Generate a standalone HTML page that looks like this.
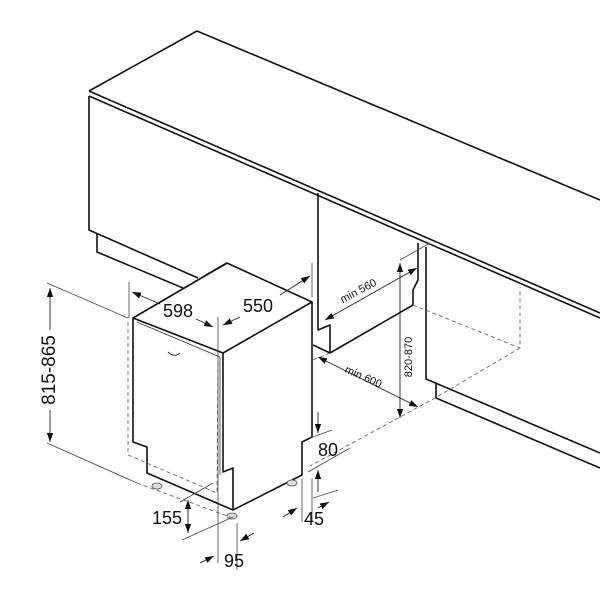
<!DOCTYPE html>
<html><head><meta charset="utf-8"><style>html,body{margin:0;padding:0;background:#fff}svg{display:block}</style></head>
<body>
<svg width="600" height="600" viewBox="0 0 600 600" xmlns="http://www.w3.org/2000/svg" font-family="Liberation Sans, sans-serif">
<defs>
<marker id="a" viewBox="0 0 10 10" refX="10" refY="5" markerWidth="9" markerHeight="9" orient="auto-start-reverse" markerUnits="userSpaceOnUse"><path d="M0,1.5 L10,5 L0,8.5z" fill="#111"/></marker>
</defs>
<g fill="none" stroke="#111" stroke-width="1.6" stroke-linejoin="round">
<path d="M89,91 L197,31 L600,200"/>
<path d="M89,91 L600,313"/>
<path d="M89,96 L600,318"/>
<path d="M89,96 L89,230 L198,278"/>
<path d="M97,233 L97,252 L183,288"/>
<path d="M318,193 L318,330 L330,325 L330,353 L413,305 L413,290 L418,280 L418,243"/>
<path d="M313,345 L330,353"/>
<path d="M426,247 L426,379 L600,453"/>
<path d="M436,384 L436,398 L600,468"/>
<path d="M133,318 L227,263 L312,302 L223,353 Z"/>
<path d="M133,318 L133,442 L147,447 L147,473 L233,510 L302,475 L302,442 L312,437 L312,302"/>
<path d="M223,353 L223,472 L233,468 L233,510"/>
<path d="M227,263 L206,275"/>
</g>
<g fill="none" stroke="#333" stroke-width="0.8">
<path d="M137,322 L220,357"/>
<path d="M220,357 L220,475"/>
<path d="M168,352 q6,6 12,1" stroke-width="1"/>
</g>
<g fill="#ddd" stroke="#555" stroke-width="0.8">
<ellipse cx="157" cy="486" rx="5" ry="3"/><ellipse cx="232" cy="516" rx="5" ry="3"/><ellipse cx="292" cy="483" rx="5" ry="3"/>
</g>
<g fill="none" stroke="#666" stroke-width="0.9" stroke-dasharray="4,3">
<path d="M128,322 L128,455 L217,493 L218,358"/>
<path d="M137,483 L230,517"/>
<path d="M413,305 L520,348 L520,287"/>
<path d="M520,348 L435,398 L310,466"/>
<path d="M330,353 L313,360"/>
</g>
<g fill="none" stroke="#444" stroke-width="0.8">
<path d="M47,283 L128,318"/><path d="M47,443 L137,483"/>
<path d="M129,282 L129,318"/>
<path d="M218,317 L218,563"/>
<path d="M312,263 L312,297"/>
<path d="M400,260 L430,243"/>
<path d="M310,438 L332,430"/><path d="M308,472 L350,448"/><path d="M313,498 L338,490"/>
<path d="M302,478 L302,522"/><path d="M312,478 L312,522"/>
<path d="M180,502 L213,483"/><path d="M182,540 L233,517"/>
<path d="M237,523 L237,570"/>
</g>
<g fill="none" stroke="#222" stroke-width="0.9">
<path d="M50,288 L50,330" marker-start="url(#a)"/><path d="M50,410 L50,442" marker-end="url(#a)"/>
<path d="M132,292 L160,304" marker-start="url(#a)"/><path d="M196,319 L213,327" marker-end="url(#a)"/>
<path d="M223,325 L240,317" marker-start="url(#a)"/><path d="M280,295 L310,276" marker-end="url(#a)"/>
<path d="M325,320 L417,268" marker-start="url(#a)" marker-end="url(#a)"/>
<path d="M318,357 L418,407" marker-start="url(#a)" marker-end="url(#a)"/>
<path d="M400,263 L400,418" marker-start="url(#a)" marker-end="url(#a)"/>
<path d="M318,412 L318,433" marker-end="url(#a)"/>
<path d="M318,492 L318,470" marker-end="url(#a)"/>
<path d="M318,508 L329,502" marker-end="url(#a)"/>
<path d="M283,517 L297,508" marker-end="url(#a)"/>
<path d="M188,500 L188,533" marker-start="url(#a)" marker-end="url(#a)"/>
<path d="M200,563 L214,556" marker-end="url(#a)"/>
<path d="M254,533 L240,541" marker-end="url(#a)"/>
</g>
<g fill="#111">
<text x="50" y="370" font-size="19" text-anchor="middle" transform="rotate(-90 50 370)" dominant-baseline="middle">815-865</text>
<text x="178" y="317" font-size="18" text-anchor="middle">598</text>
<text x="258" y="312" font-size="18" text-anchor="middle">550</text>
<text x="360" y="294" font-size="11" text-anchor="middle" transform="rotate(-28 360 294)">min 560</text>
<text x="362" y="380" font-size="11" text-anchor="middle" transform="rotate(24 362 380)">min 600</text>
<text x="412" y="357" font-size="11" text-anchor="middle" transform="rotate(-90 412 357)">820-870</text>
<text x="328" y="456" font-size="18" text-anchor="middle">80</text>
<text x="314" y="525" font-size="18" text-anchor="middle">45</text>
<text x="167" y="524" font-size="18" text-anchor="middle">155</text>
<text x="234" y="567" font-size="18" text-anchor="middle">95</text>
</g>
</svg>
</body></html>
